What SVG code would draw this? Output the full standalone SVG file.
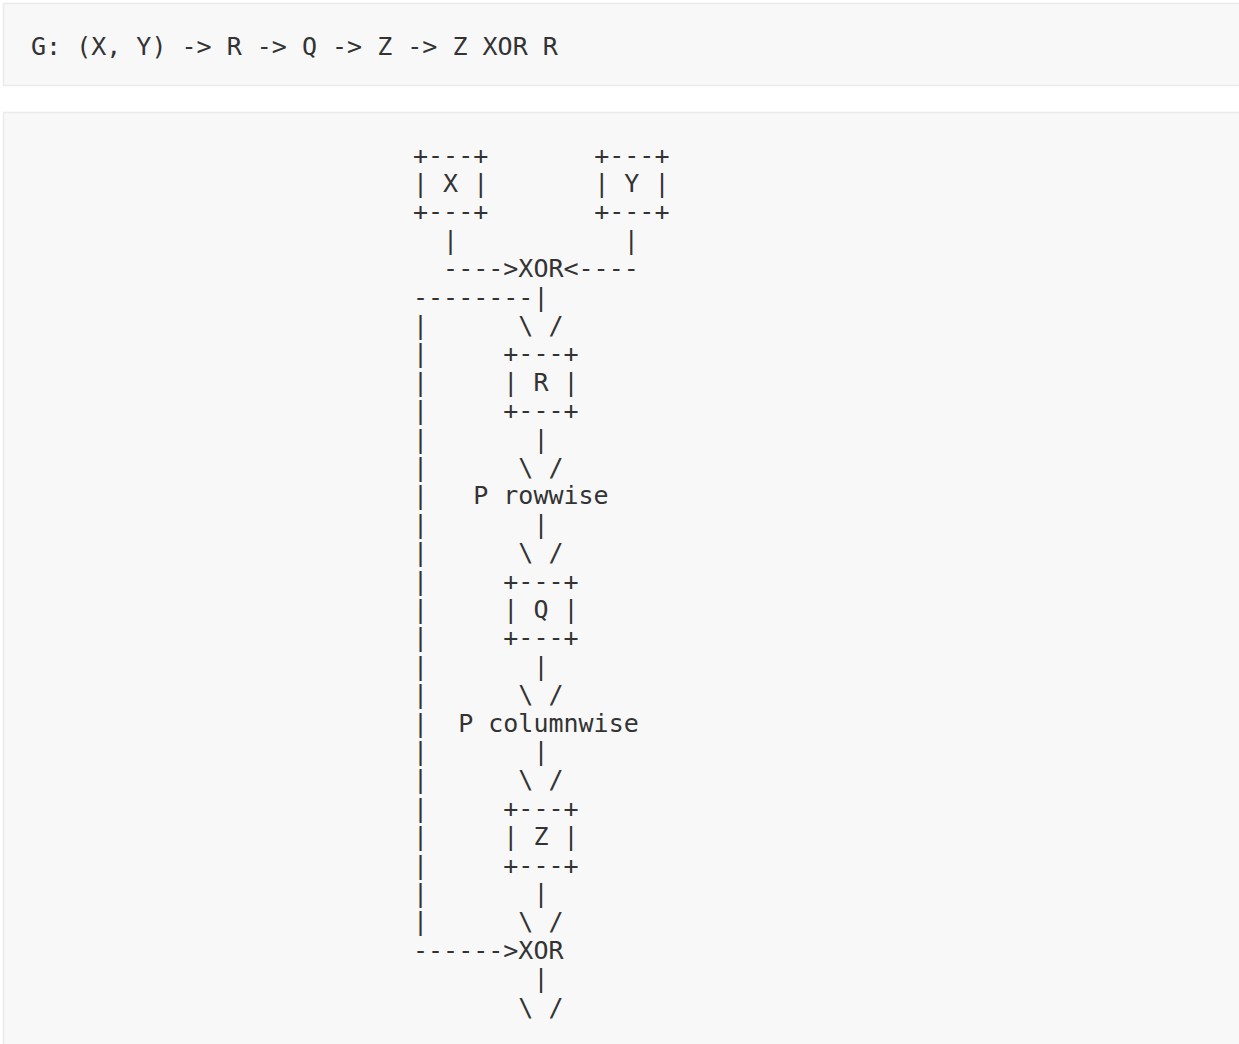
<svg xmlns="http://www.w3.org/2000/svg" width="1239" height="1044" viewBox="0 0 1239 1044" xml:space="preserve">
<style>
.blk{fill:#f8f8f8;stroke:#ebebeb;stroke-width:1.6}
.t{font-family:"DejaVu Sans Mono","Liberation Mono",monospace;font-size:25px;fill:#333;white-space:pre}
</style>
<rect width="1239" height="1044" fill="#ffffff"/>
<g id="block1">
<rect class="blk" x="3.5" y="3.5" width="1250" height="82"/>
<text class="t" x="31" y="54.5">G: (X, Y) -&gt; R -&gt; Q -&gt; Z -&gt; Z XOR R</text>
</g>
<g id="block2">
<rect class="blk" x="3.5" y="112.5" width="1250" height="960"/>
</g>
<g id="nodes">
<g id="node-X"><text class="t" x="413" y="163.5">+---+</text><text class="t" x="413" y="191.9">| X |</text><text class="t" x="413" y="220.3">+---+</text></g>
<g id="node-Y"><text class="t" x="594.2" y="163.5">+---+</text><text class="t" x="594.2" y="191.9">| Y |</text><text class="t" x="594.2" y="220.3">+---+</text></g>
</g>
<g id="connectors">
<text class="t" x="413" y="248.7">  |           |</text>
<text class="t" x="413" y="277.1">  ----&gt;XOR&lt;----</text>
<text class="t" x="413" y="305.5">--------|</text>
<text class="t" x="413" y="333.9">|      \ /</text>
<text class="t" x="413" y="362.3">|     +---+</text>
<text class="t" x="413" y="390.7">|     | R |</text>
<text class="t" x="413" y="419.1">|     +---+</text>
<text class="t" x="413" y="447.5">|       |</text>
<text class="t" x="413" y="475.9">|      \ /</text>
<text class="t" x="413" y="504.3">|   P rowwise</text>
<text class="t" x="413" y="532.7">|       |</text>
<text class="t" x="413" y="561.1">|      \ /</text>
<text class="t" x="413" y="589.5">|     +---+</text>
<text class="t" x="413" y="617.9">|     | Q |</text>
<text class="t" x="413" y="646.3">|     +---+</text>
<text class="t" x="413" y="674.7">|       |</text>
<text class="t" x="413" y="703.1">|      \ /</text>
<text class="t" x="413" y="731.5">|  P columnwise</text>
<text class="t" x="413" y="759.9">|       |</text>
<text class="t" x="413" y="788.3">|      \ /</text>
<text class="t" x="413" y="816.7">|     +---+</text>
<text class="t" x="413" y="845.1">|     | Z |</text>
<text class="t" x="413" y="873.5">|     +---+</text>
<text class="t" x="413" y="901.9">|       |</text>
<text class="t" x="413" y="930.3">|      \ /</text>
<text class="t" x="413" y="958.7">------&gt;XOR</text>
<text class="t" x="413" y="987.1">        |</text>
<text class="t" x="413" y="1015.5">       \ /</text>
</g>
</svg>
